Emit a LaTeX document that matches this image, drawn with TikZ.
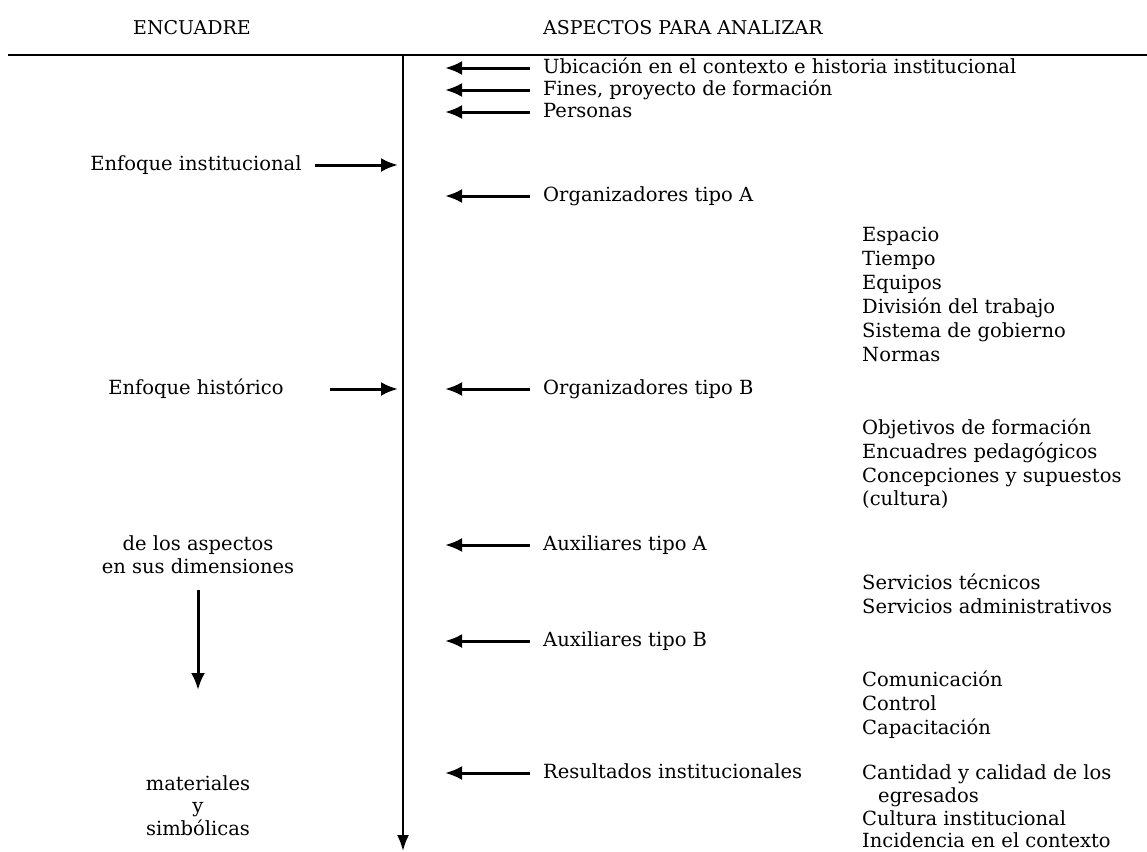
\documentclass[tikz,border=0pt]{standalone}
\usepackage{fontspec}
\setmainfont{DejaVu Serif}
\usetikzlibrary{arrows.meta,calc}
\tikzset{
  txt/.style={font=\fontsize{19.5}{24}\selectfont, inner sep=0pt, text height=14pt, text depth=4pt},
  lt/.style={txt, anchor=west},
  ct/.style={txt, anchor=center},
  hd/.style={font=\fontsize{19}{24}\selectfont, inner sep=0pt, text height=14pt, text depth=4pt},
  arr/.style={line width=3pt, -{Latex[length=17pt,width=14pt]}},
  axis/.style={line width=2.2pt},
}
\begin{document}
\begin{tikzpicture}[x=1pt,y=-1pt]
\useasboundingbox[fill=white] (0,0) rectangle (1147,851);

% headings and rule
\node[hd, anchor=center] (h1) at (192,30) {ENCUADRE};
\node[hd, anchor=west] (h2) at (543,30) {ASPECTOS PARA ANALIZAR};
\coordinate (rl) at (8,55);
\coordinate (rr) at (1147,55);
\draw[axis] (rl) -- (rr);

% central axis
\coordinate (top) at (403,55);
\coordinate (bot) at (403,851);
\draw[axis, -{Latex[length=16pt,width=12pt]}] (top) -- (bot);

% aspects pointing to the axis
\node[lt] (ub) at (543,68)  {Ubicación en el contexto e historia institucional};
\node[lt] (fi) at (543,90)  {Fines, proyecto de formación};
\node[lt] (pe) at (543,112) {Personas};
\node[lt] (oa) at (543,196) {Organizadores tipo A};
\node[lt] (ob) at (543,389) {Organizadores tipo B};
\node[lt] (xa) at (543,545) {Auxiliares tipo A};
\node[lt] (xb) at (543,641) {Auxiliares tipo B};
\node[lt] (re) at (543,773) {Resultados institucionales};
\foreach \n in {ub,fi,pe,oa,ob,xa,xb,re}
  \draw[arr] ([xshift=-13pt]\n.west) -- ([xshift=42pt]\n.west -| top);

% sub-items
\node[lt] (a1) at (862,236) {Espacio};
\node[lt] (a2) at (862,260) {Tiempo};
\node[lt] (a3) at (862,284) {Equipos};
\node[lt] (a4) at (862,308) {División del trabajo};
\node[lt] (a5) at (862,332) {Sistema de gobierno};
\node[lt] (a6) at (862,356) {Normas};

\node[lt] (b1) at (862,429) {Objetivos de formación};
\node[lt] (b2) at (862,453) {Encuadres pedagógicos};
\node[lt] (b3) at (862,477) {Concepciones y supuestos};
\node[lt] (b4) at (862,500) {(cultura)};

\node[lt] (c1) at (862,584) {Servicios técnicos};
\node[lt] (c2) at (862,608) {Servicios administrativos};

\node[lt] (d1) at (862,681) {Comunicación};
\node[lt] (d2) at (862,705) {Control};
\node[lt] (d3) at (862,729) {Capacitación};

\node[lt] (e1) at (862,774) {Cantidad y calidad de los};
\node[lt] (e2) at (878,797) {egresados};
\node[lt] (e3) at (862,820) {Cultura institucional};
\node[lt] (e4) at (862,842) {Incidencia en el contexto};

% framing column
\node[ct] (ei) at (196,165) {Enfoque institucional};
\draw[arr] ([xshift=13pt]ei.east) -- ([xshift=-5pt]ei.east -| top);
\node[ct] (eh) at (196,389) {Enfoque histórico};
\draw[arr] ([xshift=-73pt]eh.east -| top) -- ([xshift=-5pt]eh.east -| top);

\node[ct] (d1l) at (198,545) {de los aspectos};
\node[ct] (d2l) at (198,568) {en sus dimensiones};
\node[ct] (m1) at (198,785) {materiales};
\node[ct] (m2) at (198,807) {y};
\node[ct] (m3) at (198,830) {simbólicas};
\coordinate (dstart) at (198,590);
\coordinate (dend) at (198,690);
\draw[arr] (dstart) -- (dend);
\end{tikzpicture}
\end{document}
